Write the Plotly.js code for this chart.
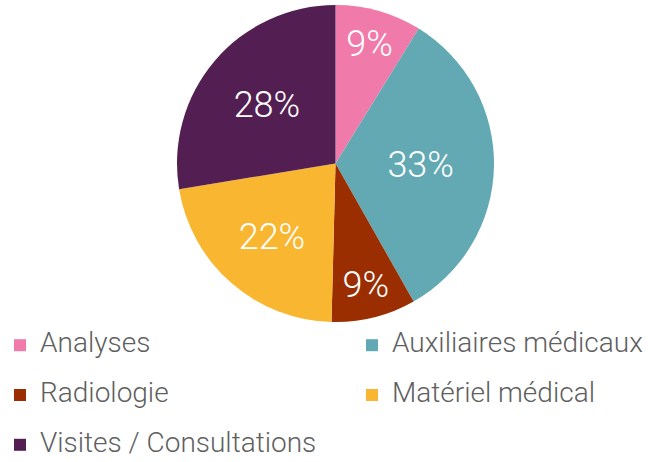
<!DOCTYPE html>
<html>
<head>
<meta charset="utf-8">
<script src="https://cdn.plot.ly/plotly-3.0.1.min.js"></script>
<style>html,body{margin:0;padding:0;background:#fff;overflow:hidden;width:659px;height:462px;}#chart{width:720px;height:462px;}</style>
</head>
<body>
<div id="chart"></div>
<script>
const categories = ["Analyses", "Auxiliaires médicaux", "Radiologie", "Matériel médical", "Visites / Consultations"];
const values = [8.8, 33.0, 8.6, 22.0, 27.6];
const colors = ["#F07AAA", "#63A9B4", "#9A2E00", "#F9B630", "#531F52"];

const legendLabels = categories.map(c => '<span style="font-size:28px">' + c + '</span><br>\u00a0');

const trace = {
  type: 'pie',
  labels: legendLabels,
  values: values,
  sort: false,
  direction: 'clockwise',
  rotation: 0,
  marker: {colors: colors, line: {width: 0}},
  texttemplate: '%{percent:.0%}',
  textposition: 'inside',
  insidetextorientation: 'horizontal',
  textfont: {family: 'Roboto', size: 36, color: '#ffffff', weight: 300},
  hoverinfo: 'none',
  domain: {x: [177 / 720, 494 / 720], y: [1 - 322 / 462, 1 - 5 / 462]}
};

const layout = {
  width: 720, height: 462,
  margin: {l: 0, r: 0, t: 0, b: 0, autoexpand: false},
  paper_bgcolor: '#ffffff',
  showlegend: true,
  legend: {
    orientation: 'h',
    x: 0, xanchor: 'left',
    y: 1 - 327 / 462, yanchor: 'top',
    entrywidth: 307, entrywidthmode: 'pixels',
    valign: 'top',
    font: {family: 'Roboto', size: 18, color: '#5F5F5F', weight: 300},
    bgcolor: 'rgba(0,0,0,0)'
  }
};

Plotly.newPlot('chart', [trace], layout, {displayModeBar: false, staticPlot: true});
</script>
</body>
</html>
